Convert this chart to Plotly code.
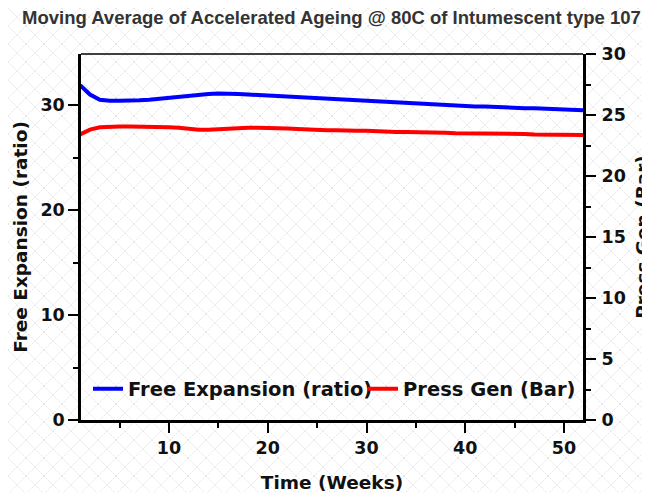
import plotly.graph_objects as go
import base64

weeks = list(range(1, 53))
free_expansion = [31.9, 31.0, 30.5, 30.4, 30.4, 30.4, 30.45, 30.5, 30.6, 30.7,
                  30.8, 30.9, 31.0, 31.05, 31.1, 31.1, 31.05, 31.0, 30.95, 30.9,
                  30.85, 30.8, 30.7, 30.65, 30.6, 30.55, 30.5, 30.45, 30.4, 30.35,
                  30.3, 30.25, 30.2, 30.15, 30.1, 30.05, 30.0, 29.95, 29.95, 29.9,
                  29.85, 29.85, 29.8, 29.8, 29.75, 29.7, 29.7, 29.65, 29.6, 29.6,
                  29.55, 29.5]
press_gen = [23.4, 23.8, 24.0, 24.05, 24.05, 24.05, 24.05, 24.05, 24.0, 24.0,
             23.95, 23.85, 23.8, 23.8, 23.85, 23.9, 23.95, 23.95, 23.95, 23.95,
             23.9, 23.9, 23.85, 23.8, 23.8, 23.75, 23.75, 23.7, 23.7, 23.7,
             23.65, 23.65, 23.6, 23.6, 23.6, 23.55, 23.55, 23.55, 23.5, 23.5,
             23.5, 23.5, 23.45, 23.45, 23.45, 23.45, 23.4, 23.4, 23.4, 23.38,
             23.37, 23.36]

W, H = 650, 493
ML, MT, PW, PH = 73, 46, 502, 366   # page body adds an 8px offset
svg = ('<svg xmlns="http://www.w3.org/2000/svg" width="650" height="493">'
       '<defs><pattern id="p" width="18" height="18" patternUnits="userSpaceOnUse">'
       '<path d="M0 0 L18 18 M18 0 L0 18" stroke="#e6e6e6" stroke-width="1" stroke-dasharray="2 1"/>'
       '</pattern></defs><rect width="650" height="493" fill="white"/>'
       '<rect width="650" height="493" fill="url(#p)"/></svg>')
bg = "data:image/svg+xml;base64," + base64.b64encode(svg.encode()).decode()

FONT = "DejaVu Sans, Verdana, sans-serif"

fig = go.Figure()
fig.add_trace(go.Scatter(x=weeks, y=free_expansion, name="Free Expansion (ratio)",
                         mode="lines", line=dict(color="#0000ff", width=4), legend="legend"))
fig.add_trace(go.Scatter(x=weeks, y=press_gen, name="Press Gen (Bar)", yaxis="y2",
                         mode="lines", line=dict(color="#ff0000", width=4), legend="legend2"))

tickfont = dict(family=FONT, size=17.5, color="#111", weight="bold")
titlefont = dict(family=FONT, size=18.5, color="#111", weight="bold")
legfont = dict(family=FONT, size=19.5, color="#111", weight="bold")
leg_y = (MT + PH - 381) / PH

fig.update_layout(
    width=W, height=H,
    margin=dict(l=ML, r=W - ML - PW, t=MT, b=H - MT - PH, autoexpand=False),
    paper_bgcolor="rgba(0,0,0,0)", plot_bgcolor="rgba(0,0,0,0)",
    images=[dict(source=bg, xref="paper", yref="paper", x=-ML/PW, y=1+MT/PH,
                 sizex=W/PW, sizey=H/PH, xanchor="left", yanchor="top",
                 sizing="stretch", layer="below")],
    title=dict(text="Moving Average of Accelerated Ageing @ 80C of Intumescent type 107",
               x=14/W, xanchor="left", y=1-10/H, yanchor="middle",
               font=dict(family="Liberation Sans, Arial, sans-serif",
                         size=18.5, color="#333", weight="bold")),
    xaxis=dict(range=[1.09, 51.92], tickvals=[10, 20, 30, 40, 50],
               ticks="outside", ticklen=10, tickwidth=2, tickcolor="black",
               minor=dict(tickvals=[5, 15, 25, 35, 45], ticks="outside", ticklen=5,
                          tickwidth=2, tickcolor="black"),
               showline=True, linecolor="black", linewidth=2.5, mirror=False,
               showgrid=False, zeroline=False, tickfont=tickfont, automargin=False,
               title=dict(text="Time (Weeks)", font=titlefont, standoff=20)),
    yaxis=dict(range=[0, 34.86], tickvals=[0, 10, 20, 30],
               ticks="outside", ticklen=10, tickwidth=2, tickcolor="black",
               minor=dict(tickvals=[5, 15, 25], ticks="outside", ticklen=5,
                          tickwidth=2, tickcolor="black"),
               showline=True, linecolor="black", linewidth=2.5,
               showgrid=False, zeroline=False, tickfont=tickfont, automargin=False,
               title=dict(text="Free Expansion (ratio)", font=titlefont, standoff=8)),
    yaxis2=dict(range=[0, 30], tickvals=[0, 5, 10, 15, 20, 25, 30], overlaying="y",
                side="right", ticks="outside", ticklen=10, tickwidth=2, tickcolor="black",
                ticklabelstandoff=2,
                minor=dict(tickvals=[2.5, 7.5, 12.5, 17.5, 22.5, 27.5], ticks="outside",
                           ticklen=5, tickwidth=2, tickcolor="black"),
                showline=True, linecolor="black", linewidth=3,
                showgrid=False, zeroline=False, tickfont=tickfont, automargin=False,
                title=dict(text="Press Gen (Bar)", font=titlefont, standoff=12)),
    legend=dict(orientation="h", x=(80-ML)/PW, xanchor="left", y=leg_y, yanchor="middle",
                bgcolor="rgba(0,0,0,0)", font=legfont, itemwidth=30),
    legend2=dict(orientation="h", x=(355-ML)/PW, xanchor="left", y=leg_y, yanchor="middle",
                 bgcolor="rgba(0,0,0,0)", font=legfont, itemwidth=30),
    shapes=[dict(type="line", xref="paper", yref="paper", x0=0, x1=1, y0=1, y1=1,
                 line=dict(color="black", width=1.5))],
    showlegend=True,
)

fig.write_html("out.html")
